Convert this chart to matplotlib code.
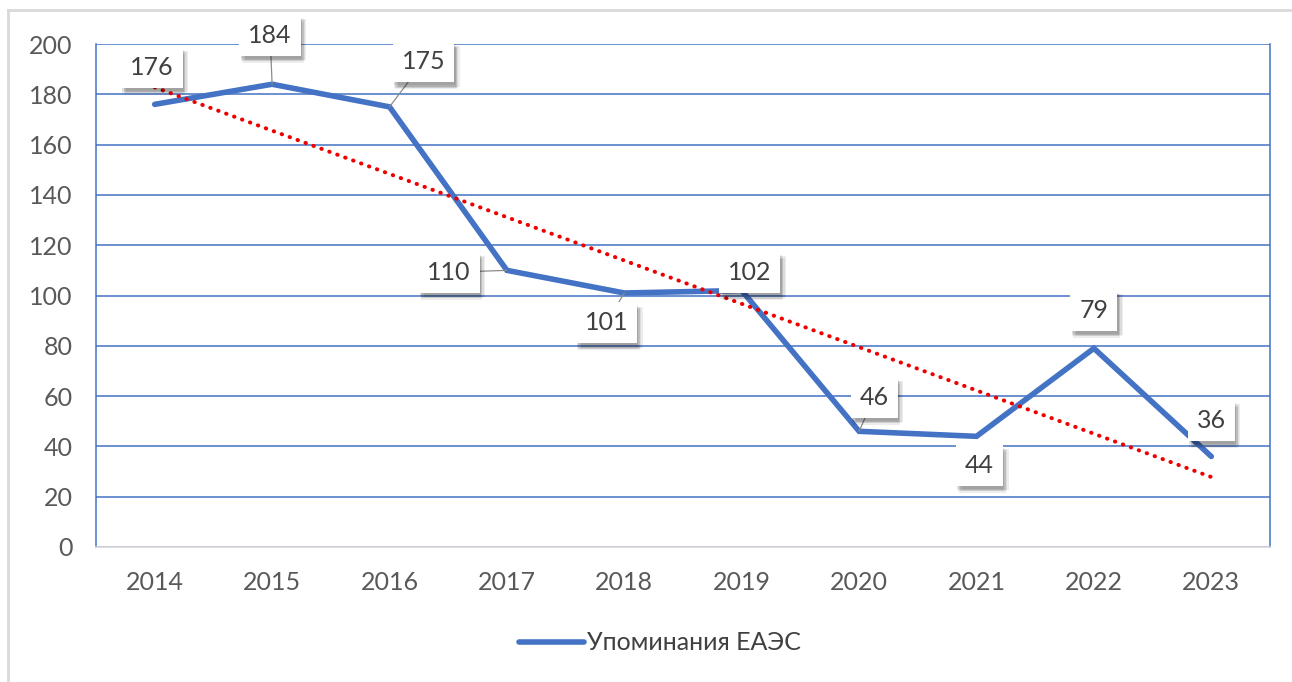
import numpy as np
import matplotlib.pyplot as plt
import matplotlib.patheffects as pe
from matplotlib.lines import Line2D

plt.rcParams['font.family'] = ['Lato', 'DejaVu Sans']

years = ['2014', '2015', '2016', '2017', '2018', '2019', '2020', '2021', '2022', '2023']
mentions = [176, 184, 175, 110, 101, 102, 46, 44, 79, 36]
label_offsets = [(-3, 37), (-2, 49), (34, 45), (-58, -2), (-18, -30),
                 (8, 18), (15, 34), (3, -29), (0, 38), (0, 36)]
# only some labels show a visible leader line
leaders = [False, True, True, True, True, False, True, False, False, False]

blue = '#4472C4'
x = np.arange(len(years))

fig = plt.figure(figsize=(12.92, 6.82), dpi=100)
ax = fig.add_axes([96 / 1292, 1 - 547 / 682, (1270 - 96) / 1292, (547 - 44) / 682])

# outer frame (light gray, only top and left visible)
fig.add_artist(Line2D([8 / 1292, 1], [1 - 10 / 682] * 2, transform=fig.transFigure,
                      color='#d9d9d9', lw=2))
fig.add_artist(Line2D([8 / 1292] * 2, [0, 1 - 10 / 682], transform=fig.transFigure,
                      color='#d9d9d9', lw=2))

ax.plot(x, mentions, color=blue, lw=4.0, solid_capstyle='round', solid_joinstyle='miter',
        label='Упоминания ЕАЭС', zorder=3)

# linear trend
k, b = np.polyfit(x, mentions, 1)
ax.plot(x, k * x + b, color='#ee0000', lw=2.9, linestyle=(0, (0.1, 2.0)),
        dash_capstyle='round', zorder=4)

# soft shadow built from several faint layers
shadow = [pe.withSimplePatchShadow(offset=(ox, oy), shadow_rgbFace='#000000', alpha=0.07)
          for ox, oy in [(1, -2), (2, -3), (3, -4), (2, -5), (4, -3), (1, -4)]]

for i, v in enumerate(mentions):
    arrow = None
    if leaders[i]:
        arrow = dict(arrowstyle='-', color='#8c8c8c', lw=0.9, shrinkA=0, shrinkB=0)
    t = ax.annotate(str(v), xy=(i, v), xytext=label_offsets[i], textcoords='offset pixels',
                    ha='center', va='center', fontsize=18, color='#404040', zorder=6,
                    bbox=dict(boxstyle='square,pad=0.36', fc='white', ec='none'),
                    arrowprops=arrow)
    t.get_bbox_patch().set_path_effects(shadow + [pe.Normal()])

ax.set_xlim(-0.5, len(years) - 0.5)
ax.set_ylim(0, 200)
ax.set_yticks(range(0, 201, 20))
ax.set_xticks(x)
ax.set_xticklabels(years)
ax.grid(axis='y', color=blue, lw=1.1)
ax.set_axisbelow(True)
ax.tick_params(length=0, labelsize=18, labelcolor='#595959')
ax.tick_params(axis='y', pad=17)
ax.tick_params(axis='x', pad=17)

for side in ['left', 'right']:
    ax.spines[side].set_color(blue)
    ax.spines[side].set_linewidth(1.1)
ax.spines['top'].set_visible(False)
ax.spines['bottom'].set_color('#d9d9d9')
ax.spines['bottom'].set_linewidth(1.2)

leg = fig.legend(handles=[ax.lines[0]], loc='center', bbox_to_anchor=(660 / 1292, 1 - 643 / 682),
                 frameon=False, fontsize=18, handlelength=2.6, handletextpad=0.1)
for txt in leg.get_texts():
    txt.set_color('#404040')

fig.savefig('out.png', dpi=100)
